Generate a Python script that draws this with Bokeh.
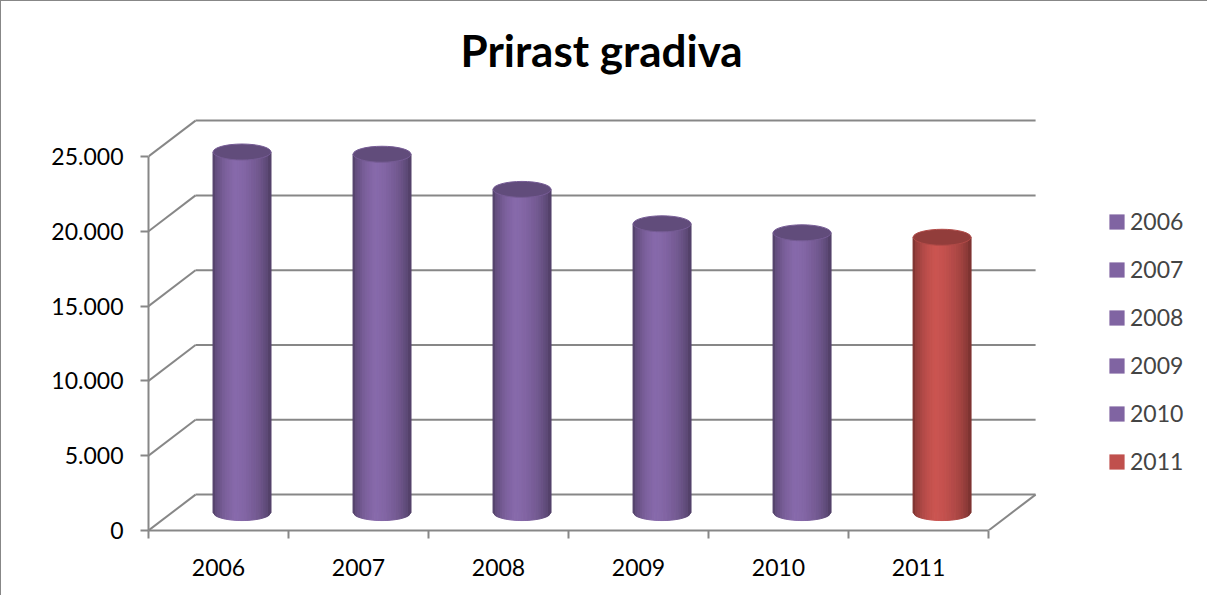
import numpy as np
from bokeh.plotting import figure
from bokeh.models import ColumnDataSource, FixedTicker, Legend, LegendItem
from bokeh.embed import file_html
from bokeh.resources import INLINE

# ---- data ----
years = ["2006", "2007", "2008", "2009", "2010", "2011"]
growth = [24100, 23950, 21600, 19300, 18700, 18400]
bar_colors = ["#8064A2", "#8064A2", "#8064A2", "#8064A2", "#8064A2", "#C0504D"]
y_ticks = [0, 5000, 10000, 15000, 20000, 25000]
y_tick_labels = ["0", "5.000", "10.000", "15.000", "20.000", "25.000"]
title_text = "Prirast gradiva"

# ---- styling constants ----
DX = 0.336      # oblique depth offset (category units)
DY = 2400       # oblique depth offset (value units)
BAR_W = 0.414   # cylinder width (category units)
CAP_H = 1070    # cylinder ellipse height (value units)
N_STRIPS = 24
GRID = "#878787"
FONT = "Lato"

n = len(years)

p = figure(width=1207, height=595, x_range=(0, 7.571), y_range=(0, 29211),
           output_backend="svg", toolbar_location=None,
           min_border_left=147, min_border_right=0, min_border_top=92, min_border_bottom=66,
           title=title_text)
p.outline_line_color = None
p.xgrid.visible = False
p.ygrid.visible = False
p.styles = {"border-left": "1px solid #878787", "border-top": "1px solid #878787"}

p.title.text_font = FONT
p.title.text_font_size = "44px"
p.title.text_font_style = "bold"
p.title.text_color = "black"
p.title.align = "left"
p.title.offset = 312
p.title.standoff = 35

# ---- back wall / floor lines ----
back_y = [v + DY for v in y_ticks]
p.segment(x0=[DX] * len(y_ticks), y0=back_y, x1=[n + DX] * len(y_ticks), y1=back_y,
          line_color=GRID, line_width=2)
p.segment(x0=[0] * len(y_ticks), y0=y_ticks, x1=[DX] * len(y_ticks), y1=back_y,
          line_color=GRID, line_width=2)
p.segment(x0=[n], y0=[0], x1=[n + DX], y1=[DY], line_color=GRID, line_width=2)

# ---- cylinders ----
base = DY / 2
cx = np.array([i + 0.5 + DX / 2 for i in range(n)])
tops = np.array(growth) + base
half = CAP_H / 2


def shade(hexcol, f):
    r, g, b = int(hexcol[1:3], 16), int(hexcol[3:5], 16), int(hexcol[5:7], 16)
    c = [min(255, int(round(v * f))) for v in (r, g, b)]
    return "#%02x%02x%02x" % tuple(c)


prof_t = [0.0, 0.06, 0.2, 0.38, 0.55, 0.8, 0.93, 1.0]
prof_f = [0.62, 0.78, 0.95, 1.06, 1.02, 0.88, 0.74, 0.62]

# legend / base quad (hidden behind strips)
leg_src = ColumnDataSource(dict(left=cx - BAR_W / 2, right=cx + BAR_W / 2,
                                bottom=[base] * n, top=tops, color=bar_colors, year=years))
leg_r = p.quad(left="left", right="right", bottom="bottom", top="top",
               fill_color="color", line_color=None, source=leg_src)

xs, ys, cols = [], [], []
edges = np.linspace(-1, 1, N_STRIPS + 1)
for i in range(n):
    for k in range(N_STRIPS):
        ul, ur = edges[k], edges[k + 1]
        xl = cx[i] + ul * BAR_W / 2
        xr = cx[i] + ur * BAR_W / 2
        yl = base - half * np.sqrt(max(0.0, 1 - ul * ul))
        yr = base - half * np.sqrt(max(0.0, 1 - ur * ur))
        xs.append([xl, xr, xr, xl])
        ys.append([tops[i], tops[i], yr, yl])
        t = (k + 0.5) / N_STRIPS
        cols.append(shade(bar_colors[i], float(np.interp(t, prof_t, prof_f))))
p.patches(xs=xs, ys=ys, fill_color=cols, line_color=cols, line_width=1)

cap_fill = [shade(c, 0.76) for c in bar_colors]
cap_line = [shade(c, 0.92) for c in bar_colors]
p.ellipse(x=cx, y=tops, width=BAR_W, height=CAP_H, fill_color=cap_fill,
          line_color=cap_line, line_width=1)

# ---- axes ----
ya = p.yaxis[0]
ya.ticker = FixedTicker(ticks=y_ticks)
ya.major_label_overrides = {v: lab for v, lab in zip(y_ticks, y_tick_labels)}
ya.bounds = (0, y_ticks[-1])
ya.axis_line_color = GRID
ya.axis_line_width = 2
ya.major_tick_line_color = GRID
ya.major_tick_line_width = 2
ya.major_tick_out = 8
ya.major_tick_in = 0
ya.minor_tick_line_color = None
ya.major_label_text_font = FONT
ya.major_label_text_font_size = "23px"
ya.major_label_text_color = "black"
ya.major_label_standoff = 17

xa = p.xaxis[0]
centers = [i + 0.5 for i in range(n)]
xa.ticker = FixedTicker(ticks=centers, minor_ticks=list(range(n + 1)))
xa.major_label_overrides = {c: y for c, y in zip(centers, years)}
xa.bounds = (0, n)
xa.axis_line_color = GRID
xa.axis_line_width = 2
xa.major_tick_line_color = None
xa.major_tick_out = 0
xa.major_tick_in = 0
xa.minor_tick_line_color = GRID
xa.minor_tick_line_width = 2
xa.minor_tick_out = 8
xa.minor_tick_in = 0
xa.major_label_text_font = FONT
xa.major_label_text_font_size = "23px"
xa.major_label_text_color = "black"
xa.major_label_standoff = 20

# ---- legend ----
items = [LegendItem(label=years[i], renderers=[leg_r], index=i) for i in range(n)]
legend = Legend(items=items, location=(959, 55), glyph_width=19, glyph_height=19,
                label_height=19, spacing=20, label_standoff=4, padding=0, margin=0,
                border_line_color=None, background_fill_alpha=0,
                label_text_font=FONT, label_text_font_size="23px")
p.add_layout(legend)

open("out.html", "w").write(file_html(p, INLINE))
